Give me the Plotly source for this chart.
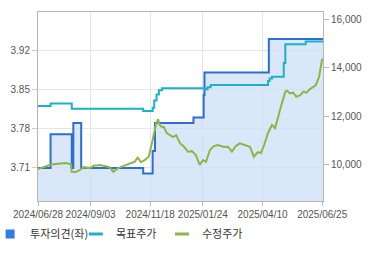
import plotly.graph_objects as go

# 투자의견 (left axis) - step series
opinion_dates = ["2024-06-28", "2024-07-14", "2024-08-10", "2024-08-12", "2024-08-22",
                 "2024-11-09", "2024-11-21", "2024-11-24", "2025-01-12", "2025-01-25",
                 "2025-01-26", "2025-04-18", "2025-06-26"]
opinion_vals = [3.71, 3.77, 3.71, 3.79, 3.71,
                3.70, 3.74, 3.79, 3.80, 3.84,
                3.88, 3.94, 3.94]

# 목표주가 (right axis) - step series
target_dates = ["2024-06-28", "2024-07-14", "2024-08-10", "2024-11-09", "2024-11-21",
                "2024-11-23", "2024-11-26", "2024-11-29", "2024-12-03", "2025-01-27",
                "2025-01-30", "2025-02-03", "2025-04-17", "2025-04-19", "2025-04-22",
                "2025-05-07", "2025-05-09", "2025-06-04", "2025-06-26"]
target_vals = [12420, 12530, 12310, 12220, 12350,
               12650, 12900, 13070, 13150, 13110,
               13200, 13290, 13450, 13560, 13630,
               14200, 14970, 15080, 15080]

# 수정주가 (right axis)
price_dates = ["2024-06-28", "2024-07-03", "2024-07-08", "2024-07-14", "2024-07-21", "2024-07-29",
               "2024-08-02", "2024-08-06", "2024-08-09", "2024-08-10", "2024-08-15", "2024-08-20",
               "2024-08-25", "2024-09-02", "2024-09-07", "2024-09-15", "2024-09-20", "2024-09-27",
               "2024-10-02", "2024-10-07", "2024-10-15", "2024-10-23", "2024-10-29", "2024-11-02",
               "2024-11-06", "2024-11-11", "2024-11-16", "2024-11-21", "2024-11-25", "2024-11-28",
               "2024-11-30", "2024-12-03", "2024-12-05", "2024-12-09", "2024-12-13", "2024-12-17",
               "2024-12-21", "2024-12-26", "2024-12-31", "2025-01-05", "2025-01-10", "2025-01-15",
               "2025-01-20", "2025-01-24", "2025-01-28", "2025-02-02", "2025-02-07", "2025-02-12",
               "2025-02-20", "2025-02-25", "2025-03-02", "2025-03-07", "2025-03-12", "2025-03-18",
               "2025-03-25", "2025-03-30", "2025-04-04", "2025-04-08", "2025-04-12", "2025-04-17",
               "2025-04-22", "2025-04-26", "2025-04-30", "2025-05-04", "2025-05-09", "2025-05-11",
               "2025-05-15", "2025-05-19", "2025-05-23", "2025-05-28", "2025-06-01", "2025-06-05",
               "2025-06-09", "2025-06-13", "2025-06-17", "2025-06-21", "2025-06-24", "2025-06-25"]
price_vals = [9820, 9870, 9920, 10000, 10030, 10060,
              10070, 10040, 10020, 9710, 9700, 9780,
              9900, 9860, 9960, 9990, 9950, 9900,
              9710, 9840, 9950, 10060, 10120, 10290,
              10110, 10190, 10330, 11020, 11640, 11880,
              11640, 11550, 11570, 11310, 11220, 11140,
              11220, 10880, 10740, 10540, 10560, 10400,
              9990, 10190, 10120, 10610, 10770, 10810,
              10730, 10740, 10540, 10770, 10880, 10810,
              10740, 10330, 10520, 10480, 10810, 11310,
              11640, 11510, 12050, 12460, 13010, 13050,
              12940, 12970, 12800, 12870, 13010, 12970,
              13110, 13220, 13290, 13630, 14180, 14380]

x_ticks = ["2024-06-28", "2024-09-03", "2024-11-18", "2025-01-24", "2025-04-10", "2025-06-25"]
y_left_ticks = [3.71, 3.78, 3.85, 3.92]
y_right_ticks = [10000, 12000, 14000, 16000]

BLUE = "#2b6fd3"
FILL = "rgba(205,223,245,0.75)"
TEAL = "#1ab3c6"
GREEN = "#8db646"
TICK_FONT = dict(family="Liberation Sans, Arial, sans-serif", size=10, color="#555555")
LEG_FONT = dict(family="Noto Sans CJK KR", size=11, color="#333333")

fig = go.Figure()
fig.add_trace(go.Scatter(x=opinion_dates, y=opinion_vals, mode="lines", line_shape="hv",
                         line=dict(color=BLUE, width=2), fill="tozeroy", fillcolor=FILL,
                         showlegend=False, yaxis="y", hoverinfo="skip"))
fig.add_trace(go.Scatter(x=target_dates, y=target_vals, mode="lines", line_shape="hv",
                         line=dict(color=TEAL, width=2), showlegend=False, yaxis="y2"))
fig.add_trace(go.Scatter(x=price_dates, y=price_vals, mode="lines",
                         line=dict(color=GREEN, width=2), showlegend=False, yaxis="y2"))

# legend entries (one legend box each, so spacing can be matched)
fig.add_trace(go.Scatter(x=[None], y=[None], mode="markers", name="투자의견(좌)",
                         legend="legend",
                         marker=dict(symbol="square", size=9, color="#2f7fe0")))
fig.add_trace(go.Scatter(x=[None], y=[None], mode="markers", name="목표주가",
                         legend="legend2",
                         marker=dict(symbol="line-ew", size=10, line=dict(color=TEAL, width=3))))
fig.add_trace(go.Scatter(x=[None], y=[None], mode="markers", name="수정주가",
                         legend="legend3",
                         marker=dict(symbol="line-ew", size=10, line=dict(color=GREEN, width=3))))

def leg(xpos):
    return dict(orientation="h", xref="paper", yref="paper",
                x=xpos, xanchor="left", y=-0.175, yanchor="middle",
                font=LEG_FONT, itemwidth=30, bgcolor="rgba(0,0,0,0)")

fig.update_layout(
    width=370, height=255,
    margin=dict(l=38, r=47, t=12, b=54, autoexpand=False),
    paper_bgcolor="white", plot_bgcolor="white",
    xaxis=dict(type="date", range=["2024-06-28", "2025-06-26"], tickvals=x_ticks,
               tickformat="%Y/%m/%d", tickangle=0, tickfont=TICK_FONT, showgrid=True,
               gridcolor="#e3e6ec", gridwidth=1, ticks="outside", ticklen=4,
               tickcolor="#bbbbbb", showline=True, linecolor="#b5b5b5", linewidth=1,
               mirror=True, zeroline=False, automargin=False),
    yaxis=dict(range=[3.651, 3.988], tickvals=y_left_ticks, tickformat=".2f",
               tickfont=TICK_FONT, showgrid=True, gridcolor="#e3e6ec", ticks="outside",
               ticklen=5, tickcolor="#cccccc", showline=True, linecolor="#b5b5b5",
               linewidth=1, mirror=True, zeroline=False, automargin=False),
    yaxis2=dict(range=[8503, 16301], tickvals=y_right_ticks, tickformat=",",
                tickfont=TICK_FONT, overlaying="y", side="right", showgrid=False,
                ticks="outside", ticklen=5, tickcolor="#bbbbbb", zeroline=False,
                automargin=False),
    legend=leg(-0.168),
    legend2=leg(0.133),
    legend3=leg(0.435),
    showlegend=True,
)

fig.write_html("out.html", config={"displayModeBar": False},
               post_script="document.body.style.margin='0';document.body.style.overflow='hidden';")
